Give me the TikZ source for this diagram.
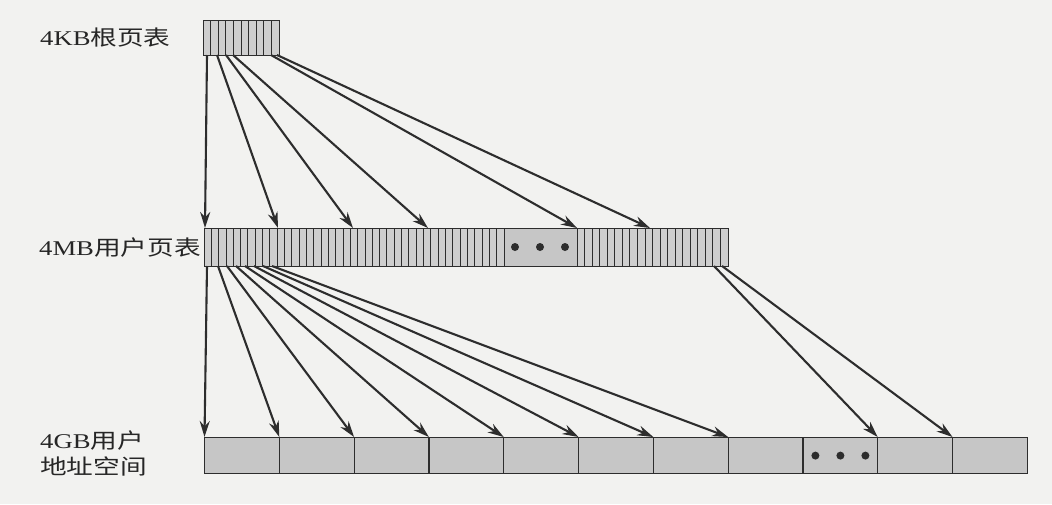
\documentclass[tikz,border=0pt]{standalone}
\usepackage{fontspec}
\setmainfont{Liberation Serif}
\newfontfamily\cjk{Noto Sans CJK SC}
\usetikzlibrary{arrows.meta, positioning}
\definecolor{inkGray}{RGB}{45, 45, 45}
\definecolor{paperGray}{RGB}{242, 242, 240}
\definecolor{cellGray}{RGB}{206, 206, 206}
\definecolor{slotGray}{RGB}{198, 198, 198}

\newcommand{\wide}[1]{\scalebox{1.27}[1]{#1}}

\tikzset{
  lbl/.style={anchor=west, inner sep=0pt, align=left,
              font=\fontsize{21}{26}\selectfont, text=black!85},
  tablebox/.style={draw=inkGray, fill=cellGray, line width=1.2pt,
                   inner sep=0pt, anchor=north west},
  slotbox/.style={draw=inkGray, fill=slotGray, line width=1.2pt,
                  inner sep=0pt, anchor=north west,
                  minimum width=74.8, minimum height=36},
  stripe/.style={draw=inkGray, line width=0.9pt},
  ptr/.style={draw=inkGray, line width=2.1pt,
              -{Stealth[length=16pt, width=10pt]}},
}

\begin{document}
\begin{tikzpicture}[x=1pt, y=-1pt]
  \fill[paperGray] (0,0) rectangle (1052,504);
  \useasboundingbox (0,0) rectangle (1052,504);

  % ── Libellés (bord gauche à x=40) ──
  \node[lbl] (lroot) at (40,38) {\wide{4KB{\cjk 根页表}}};
  \node[lbl] (lpage) at (39,248) {\wide{4MB{\cjk 用户页表}}};
  \node[lbl] (lspace) at (40,453)
    {\wide{4GB{\cjk 用户}}\\\wide{\cjk 地址空间}};

  % ── Table racine 4KB ──
  \node[tablebox, minimum width=76, minimum height=35] (root) at (203,20) {};
  \foreach \i in {1,...,9}
    \draw[stripe] ({203 + \i*7.6}, 20) -- ({203 + \i*7.6}, 55);

  % ── Table des pages utilisateur 4MB ──
  \node[tablebox, minimum width=524, minimum height=38] (page) at (204,228) {};
  \foreach \i in {1,...,40}
    \draw[stripe] ({204 + \i*7.317}, 228) -- ({204 + \i*7.317}, 266);
  \foreach \i in {1,...,19}
    \draw[stripe] ({577 + \i*7.55}, 228) -- ({577 + \i*7.55}, 266);
  \node[tablebox, fill=slotGray, minimum width=73, minimum height=38]
    (pdots) at (504,228) {};
  \foreach \xd in {515, 540, 565}
    \fill[inkGray] (\xd, 247) circle (4);

  % ── Espace d'adressage 4GB ──
  \foreach \k in {0,...,10}
    \node[slotbox] (a\k) at ({204 + \k*74.8}, 437) {};
  \foreach \xd in {-25, 0, 25}
    \fill[inkGray] ([xshift=\xd]a8.center) circle (4);

  % ── Pointeurs racine -> pages ──
  \foreach \xs/\xe [count=\n] in {207/205, 217/278, 226/353,
                                  233/428, 271/577, 277/650} {
    \coordinate (rs\n) at (\xs, 55);
    \coordinate (pe\n) at (\xe, 228);
    \draw[ptr] (rs\n) -- (pe\n);
  }

  % ── Pointeurs pages -> espace d'adressage ──
  \foreach \xs [count=\k from 0] in {207, 218, 227, 236, 245, 254, 263, 272} {
    \coordinate (ps\k) at (\xs, 266);
    \draw[ptr] (ps\k) -- ([xshift=0.5]a\k.north west);
  }
  \coordinate (ps9) at (714, 266);
  \coordinate (ps10) at (722, 266);
  \draw[ptr] (ps9) -- ([xshift=0.5]a9.north west);
  \draw[ptr] (ps10) -- ([xshift=0.5]a10.north west);

\end{tikzpicture}
\end{document}
